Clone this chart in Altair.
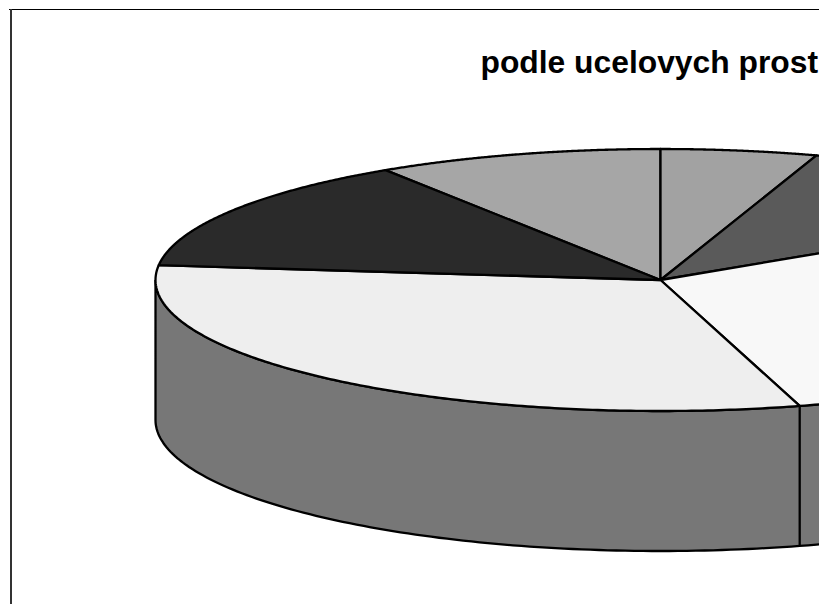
import altair as alt
import numpy as np
import pandas as pd

# slice edges, degrees on the ellipse, clockwise from the top-left slice
slice_starts = [123, 90, 72, 33, -74, -186.5]
slice_ends = [90, 72, 33, -74, -186.5, -237]
slice_colors = ["#a6a6a6", "#a2a2a2", "#5a5a5a", "#f8f8f8", "#eeeeee", "#2a2a2a"]
side_color = "#777777"
title_text = "podle ucelovych prost"

W, H = 810, 596
CX, CY, A, B, DEPTH = 651.5, 271, 505, 131, 140
x_scale = alt.Scale(domain=[-CX / A, (W - CX) / A], nice=False, zero=False)
y_scale = alt.Scale(domain=[(CY - H) / B, CY / B], nice=False, zero=False)
X = alt.X("x:Q", scale=x_scale, axis=None)
Y = alt.Y("y:Q", scale=y_scale, axis=None)
D = DEPTH / B


def arc(a0, a1):
    t = np.radians(np.linspace(a0, a1, 181))
    return np.cos(t), np.sin(t)


def poly(xs, ys, fill):
    df = pd.DataFrame({"x": xs, "y": ys, "i": range(len(xs))})
    return alt.Chart(df).mark_line(
        fill=fill, stroke="black", strokeWidth=2.3, clip=True, strokeJoin="round"
    ).encode(x=X, y=Y, order="i:Q")


layers = []
# side wall
cx, cy = arc(180, 360)
layers.append(poly(np.r_[cx, cx[::-1], cx[0]], np.r_[cy, cy[::-1] - D, cy[0]], side_color))
# wall seam below the slice edge
tx, ty = np.cos(np.radians(-74)), np.sin(np.radians(-74))
layers.append(poly([tx, tx], [ty, ty - D], side_color))
# top slices
for s, e, c in zip(slice_starts, slice_ends, slice_colors):
    ax, ay = arc(s, e)
    layers.append(poly(np.r_[0, ax, 0], np.r_[0, ay, 0], c))

title = alt.Chart(pd.DataFrame({"x": [(479.5 - 8 - CX) / A], "y": [(CY - 61.5 + 8) / B], "t": [title_text]})).mark_text(
    align="left", baseline="middle", font="Liberation Sans", fontWeight="bold", fontSize=31.8, clip=False, color="black"
).encode(x=X, y=Y, text="t:N")
layers.append(title)

frame_top = alt.Chart(pd.DataFrame({"a": [0]})).mark_rule(color="black", strokeWidth=1).encode(
    x=alt.value(0), x2=alt.value(W), y=alt.value(0.5))
frame_left = alt.Chart(pd.DataFrame({"a": [0]})).mark_rule(color="#333333", strokeWidth=2).encode(
    x=alt.value(2), y=alt.value(0), y2=alt.value(H))
layers += [frame_top, frame_left]

chart = alt.layer(*layers).properties(width=W, height=H, padding=0).configure_view(stroke=None)
chart.save("out.html", embed_options={"renderer": "svg", "actions": False})
